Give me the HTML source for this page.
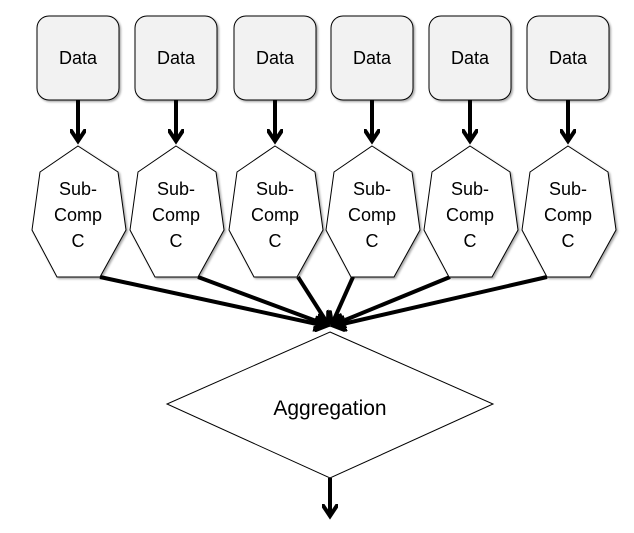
<!DOCTYPE html>
<html><head><style>body{margin:0;background:#fff}svg{display:block}</style></head><body>
<svg width="634" height="533" viewBox="0 0 634 533" xmlns="http://www.w3.org/2000/svg" font-family="Liberation Sans, sans-serif">
<defs>
<marker id="a" markerWidth="4" markerHeight="4" refX="3" refY="2" orient="auto" markerUnits="strokeWidth"><path d="M0,0 L3,2 L0,4" fill="none" stroke="#000" stroke-width="1"/></marker>
<filter id="s" x="-10%" y="-10%" width="130%" height="130%"><feDropShadow dx="1.5" dy="1.5" stdDeviation="1" flood-color="#000" flood-opacity="0.35"/></filter>
<g id="col">
<rect x="37" y="16" width="82" height="84" rx="12" fill="#f2f2f2" stroke="#000" filter="url(#s)"/>
<text x="78" y="64">Data</text>
<line x1="78" y1="100" x2="78" y2="141" stroke="#000" stroke-width="4" marker-end="url(#a)"/>
<polygon points="78,146 118,172 126,230 100,277 57,277 32,230 40,172" fill="#fff" stroke="#000" filter="url(#s)"/>
<text x="78" y="195">Sub-</text><text x="78" y="221">Comp</text><text x="78" y="247">C</text>
</g>
</defs>
<g stroke="#000" stroke-width="4" fill="none">
<line x1="100" y1="277" x2="326" y2="326" marker-end="url(#a)"/>
<line x1="198" y1="277" x2="327" y2="325" marker-end="url(#a)"/>
<line x1="298" y1="277" x2="328" y2="324" marker-end="url(#a)"/>
<line x1="353" y1="277" x2="332" y2="324" marker-end="url(#a)"/>
<line x1="450" y1="277" x2="333" y2="325" marker-end="url(#a)"/>
<line x1="547" y1="277" x2="334" y2="326" marker-end="url(#a)"/>
<line x1="330" y1="478" x2="330" y2="516" marker-end="url(#a)"/>
</g>
<polygon points="330,332 493,404 330,478 167,404" fill="#fff" stroke="#000" stroke-width="1"/>
<text x="330" y="415" font-size="21" text-anchor="middle">Aggregation</text>
<g font-size="18" text-anchor="middle">
<use href="#col" x="0"/>
<use href="#col" x="98"/>
<use href="#col" x="197"/>
<use href="#col" x="294"/>
<use href="#col" x="392"/>
<use href="#col" x="490"/>
</g>
</svg>
</body></html>
